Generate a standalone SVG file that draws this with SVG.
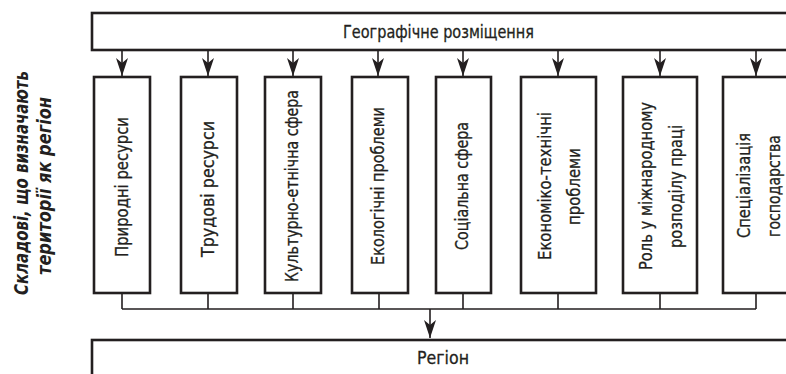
<svg xmlns="http://www.w3.org/2000/svg" width="786" height="374" viewBox="0 0 786 374">
<defs>
<style>
.box{fill:#fff;stroke:#231f20;stroke-width:2.6}
.ln{fill:none;stroke:#231f20;stroke-width:1.6}
.t{font-family:"Liberation Sans Narrow","DejaVu Sans Condensed","Liberation Sans",sans-serif;font-size:18.5px;fill:#231f20;stroke:#231f20;stroke-width:0.3}
.v{text-anchor:middle}
.lab{font-family:"Liberation Sans Narrow","DejaVu Sans Condensed","Liberation Sans",sans-serif;font-size:19px;font-weight:bold;font-style:italic;fill:#231f20;text-anchor:middle}
</style>
<marker id="ah" viewBox="0 -6 18 12" markerWidth="18" markerHeight="12" refX="18" refY="0" orient="auto" markerUnits="userSpaceOnUse">
<path d="M0,-6 L18,0 L0,6 L5,0 Z" fill="#231f20"/>
</marker>
</defs>
<rect width="786" height="374" fill="#fff"/>

<g id="label">
<text class="lab" transform="translate(28,183) rotate(-90)" textLength="224" lengthAdjust="spacingAndGlyphs">Складові, що визначають</text>
<text class="lab" transform="translate(51,186) rotate(-90)" textLength="178" lengthAdjust="spacingAndGlyphs">території як регіон</text>
</g>

<g id="top">
<rect class="box" x="92" y="13" width="730" height="37"/>
<text class="t" x="438.5" y="37.5" text-anchor="middle" textLength="191" lengthAdjust="spacingAndGlyphs">Географічне розміщення</text>
</g>

<g id="bottom">
<rect class="box" x="92" y="340" width="730" height="60"/>
<text class="t" x="443" y="363.5" text-anchor="middle" textLength="52" lengthAdjust="spacingAndGlyphs">Регіон</text>
</g>

<g id="n1">
<rect class="box" x="94" y="77" width="56" height="216"/>
<text class="t v" transform="translate(127.5,187) rotate(-90)" textLength="140" lengthAdjust="spacingAndGlyphs">Природні ресурси</text>
</g>
<g id="n2">
<rect class="box" x="181" y="77" width="56" height="216"/>
<text class="t v" transform="translate(214,189) rotate(-90)" textLength="136" lengthAdjust="spacingAndGlyphs">Трудові ресурси</text>
</g>
<g id="n3">
<rect class="box" x="265" y="77" width="56" height="216"/>
<text class="t v" transform="translate(298,186) rotate(-90)" textLength="192" lengthAdjust="spacingAndGlyphs">Культурно-етнічна сфера</text>
</g>
<g id="n4">
<rect class="box" x="352" y="77" width="56" height="216"/>
<text class="t v" transform="translate(384,186) rotate(-90)" textLength="158" lengthAdjust="spacingAndGlyphs">Екологічні проблеми</text>
</g>
<g id="n5">
<rect class="box" x="436" y="77" width="55" height="216"/>
<text class="t v" transform="translate(468,186) rotate(-90)" textLength="128" lengthAdjust="spacingAndGlyphs">Соціальна сфера</text>
</g>
<g id="n6">
<rect class="box" x="521" y="77" width="75" height="216"/>
<text class="t v" transform="translate(550.5,186) rotate(-90)" textLength="148" lengthAdjust="spacingAndGlyphs">Економіко-технічні</text>
<text class="t v" transform="translate(580,186.5) rotate(-90)" textLength="77" lengthAdjust="spacingAndGlyphs">проблеми</text>
</g>
<g id="n7">
<rect class="box" x="623" y="77" width="74" height="216"/>
<text class="t v" transform="translate(652,186) rotate(-90)" textLength="168" lengthAdjust="spacingAndGlyphs">Роль у міжнародному</text>
<text class="t v" transform="translate(682,186.5) rotate(-90)" textLength="123" lengthAdjust="spacingAndGlyphs">розподілу праці</text>
</g>
<g id="n8">
<rect class="box" x="723" y="77" width="68" height="216"/>
<text class="t v" transform="translate(750,185.5) rotate(-90)" textLength="105" lengthAdjust="spacingAndGlyphs">Спеціалізація</text>
<text class="t v" transform="translate(780,186) rotate(-90)" textLength="102" lengthAdjust="spacingAndGlyphs">господарства</text>
</g>

<g id="connectors">
<line class="ln" x1="122" y1="50" x2="122" y2="76" marker-end="url(#ah)"/>
<line class="ln" x1="208" y1="50" x2="208" y2="76" marker-end="url(#ah)"/>
<line class="ln" x1="293" y1="50" x2="293" y2="76" marker-end="url(#ah)"/>
<line class="ln" x1="378" y1="50" x2="378" y2="76" marker-end="url(#ah)"/>
<line class="ln" x1="463" y1="50" x2="463" y2="76" marker-end="url(#ah)"/>
<line class="ln" x1="558" y1="50" x2="558" y2="76" marker-end="url(#ah)"/>
<line class="ln" x1="660" y1="50" x2="660" y2="76" marker-end="url(#ah)"/>
<line class="ln" x1="756" y1="50" x2="756" y2="76" marker-end="url(#ah)"/>
<path class="ln" d="M122,294 V309 M208,294 V309 M293,294 V309 M379,294 V309 M463,294 V309 M558,294 V309 M660,294 V309 M756,294 V309 M122,309 H756"/>
<line class="ln" x1="430" y1="309" x2="430" y2="338" marker-end="url(#ah)"/>
</g>
</svg>
